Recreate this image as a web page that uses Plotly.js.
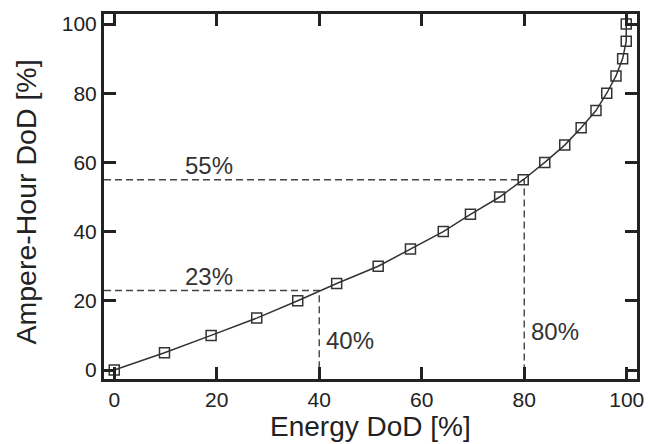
<!DOCTYPE html>
<html><head><meta charset="utf-8">
<script src="https://cdn.plot.ly/plotly-3.0.1.min.js"></script>
<style>body{margin:0;background:#fff}#chart{width:649px;height:444px}</style>
</head><body><div id="chart"></div>
<script>
const energyDoD = [0, 9.8, 18.9, 27.8, 35.8, 43.4, 51.5, 57.8, 64.2, 69.5, 75.2, 79.8, 84, 87.9, 91.1, 94, 96.1, 97.9, 99.2, 99.9, 99.9];
const ahDoD = [0, 5, 10, 15, 20, 25, 30, 35, 40, 45, 50, 55, 60, 65, 70, 75, 80, 85, 90, 95, 100];
const refX = [40, 80];
const refY = [23, 55];
const refLabelsY = ['23%', '55%'];
const refLabelsX = ['40%', '80%'];
const xTicks = [0, 20, 40, 60, 80, 100];
const yTicks = [0, 20, 40, 60, 80, 100];
const xTitle = 'Energy DoD [%]';
const yTitle = 'Ampere-Hour DoD [%]';
const xMin = -2, yMin = -2.6;

const FONT = 'Liberation Sans, Arial, Helvetica, sans-serif';
const traces = [];
for (let i = 0; i < refX.length; i++) {
  traces.push({x: [xMin, refX[i], refX[i]], y: [refY[i], refY[i], yMin], mode: 'lines',
    line: {color: '#444', width: 1.4, dash: '7px,4px'}, hoverinfo: 'skip', showlegend: false});
}
traces.push({x: energyDoD, y: ahDoD, mode: 'lines+markers',
  line: {color: '#333', width: 1.5},
  marker: {symbol: 'square-open', size: 10, color: '#333', line: {width: 1.5, color: '#333'}},
  showlegend: false});

const annotations = [];
for (let i = 0; i < refX.length; i++) {
  annotations.push({x: 18.5, y: refY[i], yshift: 14, text: refLabelsY[i], showarrow: false,
    xanchor: 'center', yanchor: 'middle', font: {size: 24, color: '#333', family: FONT}});
  annotations.push({x: refX[i], xshift: 5, y: i === 0 ? 8.5 : 11, text: refLabelsX[i], showarrow: false,
    xanchor: 'left', yanchor: 'middle', font: {size: 24, color: '#333', family: FONT}});
}
annotations.push({xref: 'paper', yref: 'paper', x: 0.5, y: -0.1315, text: xTitle, showarrow: false,
  xanchor: 'center', yanchor: 'middle', font: {size: 28, color: '#222', family: FONT}});
annotations.push({xref: 'paper', yref: 'paper', x: -0.1463, y: 0.4836, text: yTitle, showarrow: false,
  textangle: -90, xanchor: 'center', yanchor: 'middle', font: {size: 28.5, color: '#222', family: FONT}});

const axisCommon = {
  showgrid: false, zeroline: false, showline: true, linewidth: 3, linecolor: '#222',
  mirror: 'allticks', ticks: 'inside', ticklen: 12, tickwidth: 3, tickcolor: '#222',
  tickfont: {size: 21, color: '#222', family: FONT}
};

const layout = {
  width: 649, height: 444,
  margin: {l: 104, r: 12, t: 14, b: 65},
  paper_bgcolor: '#fff', plot_bgcolor: '#fff',
  font: {family: FONT, color: '#222'},
  xaxis: Object.assign({}, axisCommon, {range: [xMin, 102], tickvals: xTicks}),
  yaxis: Object.assign({}, axisCommon, {range: [yMin, 102.9], tickvals: yTicks}),
  annotations: annotations
};
Plotly.newPlot('chart', traces, layout, {displayModeBar: false, staticPlot: true});
</script></body></html>
